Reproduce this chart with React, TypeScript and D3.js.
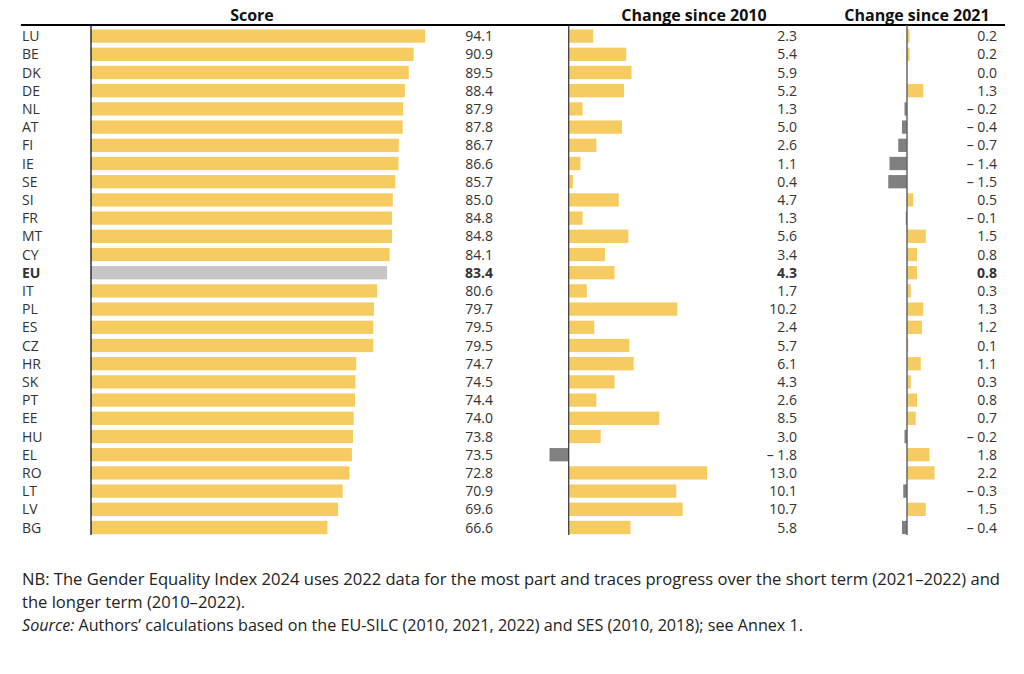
import * as d3 from "d3";

const countries = ["LU", "BE", "DK", "DE", "NL", "AT", "FI", "IE", "SE", "SI", "FR", "MT", "CY", "EU", "IT", "PL", "ES", "CZ", "HR", "SK", "PT", "EE", "HU", "EL", "RO", "LT", "LV", "BG"];
const scores = [94.1, 90.9, 89.5, 88.4, 87.9, 87.8, 86.7, 86.6, 85.7, 85.0, 84.8, 84.8, 84.1, 83.4, 80.6, 79.7, 79.5, 79.5, 74.7, 74.5, 74.4, 74.0, 73.8, 73.5, 72.8, 70.9, 69.6, 66.6];
const change2010 = [2.3, 5.4, 5.9, 5.2, 1.3, 5.0, 2.6, 1.1, 0.4, 4.7, 1.3, 5.6, 3.4, 4.3, 1.7, 10.2, 2.4, 5.7, 6.1, 4.3, 2.6, 8.5, 3.0, -1.8, 13.0, 10.1, 10.7, 5.8];
const change2021 = [0.2, 0.2, 0.0, 1.3, -0.2, -0.4, -0.7, -1.4, -1.5, 0.5, -0.1, 1.5, 0.8, 0.8, 0.3, 1.3, 1.2, 0.1, 1.1, 0.3, 0.8, 0.7, -0.2, 1.8, 2.2, -0.3, 1.5, -0.4];
const headers = ["Score", "Change since 2010", "Change since 2021"];
const notes = [
  "NB: The Gender Equality Index 2024 uses 2022 data for the most part and traces progress over the short term (2021\u20132022) and",
  "the longer term (2010\u20132022).",
];

const YELLOW = "#f6cb62";
const NEG = "#808080";
const EU_GREY = "#c6c6c6";
const TEXT = "#333";
const FONT = "'Open Sans', 'Noto Sans', sans-serif";
const NOTE_FONT = "'Open Sans', 'Noto Sans', sans-serif";

const fmt = (v: number) => (v < 0 ? `\u2013 ${Math.abs(v).toFixed(1)}` : v.toFixed(1));

const App = () => {
  const width = 1024;
  const height = 674;

  const y = d3
    .scaleBand()
    .domain(countries)
    .range([27, 536.6])
    .paddingInner(0.27)
    .paddingOuter(0.135);

  const xScore = d3.scaleLinear().domain([0, 100]).range([91, 446]);
  const x2010 = d3.scaleLinear().domain([0, 10]).range([568.7, 675.2]);
  const x2021 = d3.scaleLinear().domain([0, 1]).range([907, 919.5]);

  const axisTop = 25;
  const axisBottom = 535;
  const mid = (c: string) => y(c)! + y.bandwidth() / 2;

  const changeBars = (vals: number[], xs: d3.ScaleLinear<number, number>) =>
    countries.map((c, i) => {
      const v = vals[i];
      const x0 = xs(0);
      const x1 = xs(v);
      return (
        <rect
          key={c}
          x={Math.min(x0, x1)}
          y={y(c)!}
          width={Math.abs(x1 - x0)}
          height={y.bandwidth()}
          fill={v < 0 ? NEG : YELLOW}
        />
      );
    });

  const values = (vals: number[], xRight: number) =>
    countries.map((c, i) => (
      <text
        key={c}
        x={xRight}
        y={mid(c)}
        dy="0.36em"
        textAnchor="end"
        fontWeight={c === "EU" ? 700 : 400}
      >
        {fmt(vals[i])}
      </text>
    ));

  return (
    <svg
      width={width}
      height={height}
      style={{ position: "absolute", left: 0, top: 0, background: "#fff" }}
      fontFamily={FONT}
    >
      {/* headers */}
      <g fontSize={16} fontWeight={700} fill="#111" textAnchor="middle">
        <text x={252} y={21}>{headers[0]}</text>
        <text x={694} y={21}>{headers[1]}</text>
        <text x={917} y={21}>{headers[2]}</text>
      </g>
      <line x1={21} x2={1005} y1={axisTop} y2={axisTop} stroke="#000" strokeWidth={2} />

      {/* score bars */}
      {countries.map((c, i) => (
        <rect
          key={c}
          x={xScore(0)}
          y={y(c)!}
          width={xScore(scores[i]) - xScore(0)}
          height={y.bandwidth()}
          fill={c === "EU" ? EU_GREY : YELLOW}
        />
      ))}
      {changeBars(change2010, x2010)}
      {changeBars(change2021, x2021)}

      <line x1={xScore(0)} x2={xScore(0)} y1={axisTop} y2={axisBottom} stroke="#000" strokeWidth={1.2} />
      <line x1={x2010(0)} x2={x2010(0)} y1={axisTop} y2={axisBottom} stroke="#333" strokeWidth={1.2} />
      <line x1={x2021(0)} x2={x2021(0)} y1={axisTop} y2={axisBottom} stroke="#666" strokeWidth={1.5} />

      {/* labels and values */}
      <g fontSize={14} fill={TEXT}>
        {countries.map((c) => (
          <text key={c} x={22} y={mid(c)} dy="0.36em" fontWeight={c === "EU" ? 700 : 400}>
            {c}
          </text>
        ))}
        {values(scores, 493)}
        {values(change2010, 797)}
        {values(change2021, 997)}
      </g>

      {/* footnote */}
      <g fontFamily={NOTE_FONT} fontSize={16} fill="#222">
        <text x={22} y={585} textLength={978} lengthAdjust="spacingAndGlyphs">{notes[0]}</text>
        <text x={22} y={608} textLength={223} lengthAdjust="spacingAndGlyphs">{notes[1]}</text>
        <text x={22} y={631} textLength={781} lengthAdjust="spacingAndGlyphs">
          <tspan fontStyle="italic">Source:</tspan>
          <tspan> Authors’ calculations based on the EU-SILC (2010, 2021, 2022) and SES (2010, 2018); see Annex 1.</tspan>
        </text>
      </g>
    </svg>
  );
};

export default App;
